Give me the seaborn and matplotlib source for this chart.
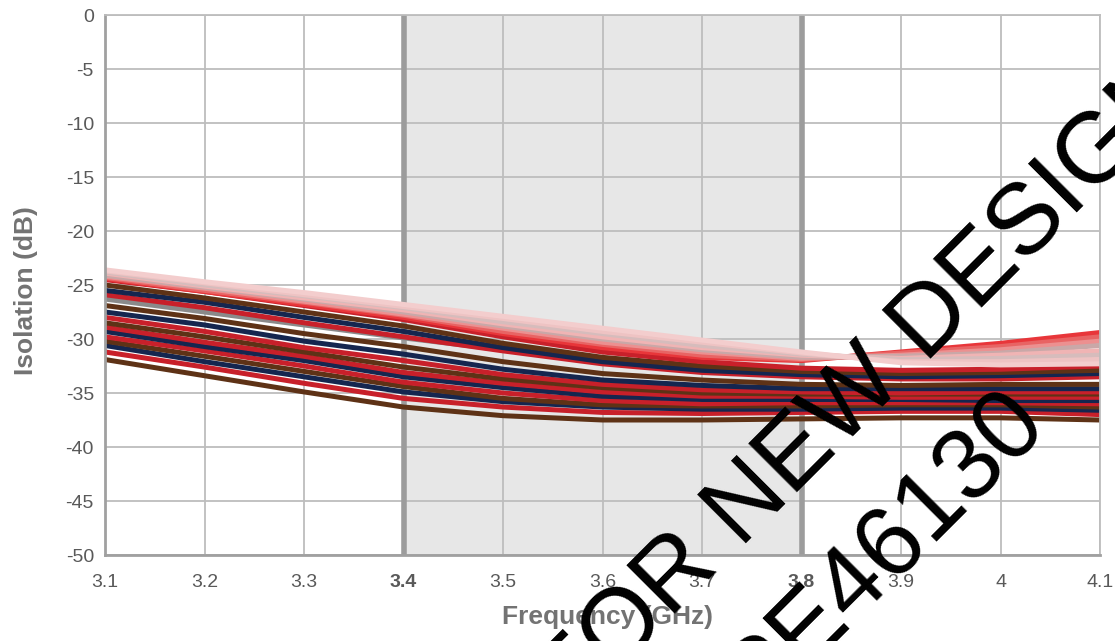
import pandas as pd
import seaborn as sns
import matplotlib.pyplot as plt

# Frequency points (GHz)
freq = [3.1, 3.2, 3.3, 3.4, 3.5, 3.6, 3.7, 3.8, 3.9, 4.0, 4.1]

# Lower family of isolation curves (dB)
lower_red = [
    [-24.5, -25.6, -26.9, -28.2, -29.8, -31.2, -32.1, -32.7, -32.9, -32.8, -32.5],
    [-25.9, -27.1, -28.5, -29.8, -31.1, -32.3, -33.1, -33.5, -33.7, -33.7, -33.5],
    [-28.0, -29.3, -30.8, -32.0, -33.3, -34.2, -34.7, -34.9, -35.0, -34.9, -34.9],
    [-28.9, -30.3, -31.6, -33.1, -34.1, -34.9, -35.3, -35.3, -35.4, -35.4, -35.4],
    [-29.8, -31.1, -32.5, -34.0, -35.0, -35.7, -36.0, -35.9, -35.9, -35.9, -36.0],
    [-31.2, -32.6, -34.1, -35.5, -36.3, -36.8, -36.9, -36.8, -36.7, -36.7, -37.0],
]
lower_navy = [
    [-25.5, -26.6, -28.0, -29.3, -30.8, -32.1, -32.9, -33.3, -33.5, -33.4, -33.2],
    [-27.5, -28.7, -30.2, -31.4, -32.8, -33.8, -34.3, -34.6, -34.6, -34.6, -34.6],
    [-29.3, -30.7, -32.0, -33.5, -34.5, -35.3, -35.6, -35.6, -35.6, -35.7, -35.7],
    [-30.6, -32.1, -33.5, -34.9, -35.8, -36.3, -36.5, -36.5, -36.4, -36.4, -36.6],
]
lower_brown = [
    [-25.0, -26.2, -27.5, -28.8, -30.4, -31.7, -32.5, -33.0, -33.2, -33.1, -32.9],
    [-26.9, -28.1, -29.5, -30.7, -32.1, -33.2, -33.8, -34.2, -34.3, -34.2, -34.2],
    [-28.5, -29.8, -31.2, -32.6, -33.7, -34.5, -35.0, -35.1, -35.1, -35.1, -35.1],
    [-30.2, -31.6, -33.0, -34.4, -35.5, -36.1, -36.2, -36.2, -36.1, -36.1, -36.3],
    [-31.9, -33.4, -34.9, -36.3, -37.1, -37.5, -37.5, -37.4, -37.3, -37.3, -37.5],
]
lower_gray = [-26.3, -27.5, -28.7, -29.9, -31.0, -32.0, -32.7, -33.1, -33.3, -33.2, -33.0]

# Upper family, from pink to red
upper_fan = [
    [-23.6, -24.7, -25.7, -26.8, -27.9, -29.0, -30.1, -31.2, -32.2, -32.4, -32.3],
    [-23.7, -24.8, -25.9, -27.0, -28.1, -29.3, -30.3, -31.3, -32.1, -32.1, -31.9],
    [-23.8, -25.0, -26.0, -27.1, -28.4, -29.5, -30.6, -31.4, -31.9, -31.8, -31.5],
    [-23.9, -25.1, -26.2, -27.3, -28.6, -29.8, -30.8, -31.5, -31.8, -31.5, -31.1],
    [-24.1, -25.2, -26.3, -27.5, -28.8, -30.0, -31.0, -31.7, -31.6, -31.3, -30.6],
    [-24.2, -25.3, -26.5, -27.7, -29.0, -30.3, -31.2, -31.8, -31.5, -31.0, -30.2],
    [-24.3, -25.5, -26.6, -27.8, -29.3, -30.5, -31.5, -31.9, -31.3, -30.7, -29.8],
    [-24.4, -25.6, -26.8, -28.0, -29.5, -30.8, -31.7, -32.0, -31.2, -30.4, -29.4],
]
fan_colors = ['#f3cdcd', '#eec3c3', '#d6bcbc', '#f0b4b4', '#c9a8a8', '#ec9090', '#e86464', '#e8363a']

x_ticks = [3.1, 3.2, 3.3, 3.4, 3.5, 3.6, 3.7, 3.8, 3.9, 4.0, 4.1]
x_labels = ['3.1', '3.2', '3.3', '3.4', '3.5', '3.6', '3.7', '3.8', '3.9', '4', '4.1']
y_ticks = [0, -5, -10, -15, -20, -25, -30, -35, -40, -45, -50]
band = (3.4, 3.8)

RED, NAVY, BROWN, GRAY = '#c8202a', '#15264f', '#5e3216', '#8a8a8a'

# stacking order of the lower family, top to bottom at 3.1 GHz
lower_order = [
    ('r', 0), ('b', 0), ('n', 0), ('r', 1), ('g', 0), ('b', 1), ('n', 1), ('r', 2),
    ('b', 2), ('r', 3), ('n', 2), ('r', 4), ('b', 3), ('n', 3), ('r', 5), ('b', 4),
]
groups = {'r': (lower_red, RED), 'n': (lower_navy, NAVY), 'b': (lower_brown, BROWN),
          'g': ([lower_gray], GRAY)}

rows = []
palette = {}
hue_order = []
for key, i in reversed(lower_order):
    curves, color = groups[key]
    name = f'{key}{i}'
    palette[name] = color
    hue_order.append(name)
    for f, v in zip(freq, curves[i]):
        rows.append({'freq': f, 'isolation': v, 'curve': name})
# fan drawn red first, pink last
for k in reversed(range(len(upper_fan))):
    name = f'fan{k}'
    palette[name] = fan_colors[k]
    hue_order.append(name)
    for f, v in zip(freq, upper_fan[k]):
        rows.append({'freq': f, 'isolation': v, 'curve': name})
df = pd.DataFrame(rows)

sns.set_theme(style='white')
plt.rcParams['font.family'] = ['Liberation Sans', 'DejaVu Sans']
plt.rcParams['axes.unicode_minus'] = False

fig = plt.figure(figsize=(11.15, 6.41), dpi=100)
ax = fig.add_axes([105 / 1115, 86 / 641, 995 / 1115, 540 / 641])

ax.axvspan(*band, color='#e7e7e7', zorder=0.2, lw=0)
ax.grid(True, color='#bdbdbd', lw=1.3, zorder=0.5)
ax.set_axisbelow(True)
for xb in band:
    ax.axvline(xb, color='#9c9c9c', lw=4, zorder=0.8)

sns.lineplot(data=df, x='freq', y='isolation', hue='curve', hue_order=hue_order,
             palette=palette, legend=False, linewidth=3.6, estimator=None,
             sort=False, ax=ax, solid_capstyle='butt')

ax.set_xlim(3.1, 4.1)
ax.set_ylim(-50, 0)
ax.set_xticks(x_ticks)
ax.set_xticklabels(x_labels)
ax.set_yticks(y_ticks)
ax.tick_params(axis='both', length=0, labelsize=14, labelcolor='#595959')
ax.tick_params(axis='x', pad=14)
ax.tick_params(axis='y', pad=8)
for lab in ax.get_xticklabels():
    if lab.get_text() in ('3.4', '3.8'):
        lab.set_fontweight('bold')

for side in ['top', 'right']:
    ax.spines[side].set_color('#bdbdbd')
    ax.spines[side].set_linewidth(1.3)
for side in ['left', 'bottom']:
    ax.spines[side].set_color('#a0a0a0')
    ax.spines[side].set_linewidth(2)

ax.set_xlabel('Frequency (GHz)', fontsize=19, fontweight='bold', color='#737373')
ax.set_ylabel('Isolation (dB)', fontsize=19, fontweight='bold', color='#737373')
ax.xaxis.set_label_coords(0.505, -0.092)
ax.yaxis.set_label_coords(-0.067, 0.49)

# watermark
fig.text(824 / 1115, 1 - 465 / 641, 'NOT FOR NEW DESIGNS', fontsize=72, color='black',
         rotation=45, rotation_mode='anchor', ha='center', va='baseline', zorder=10)
fig.text(902 / 1115, 1 - 568 / 641, 'PE46130', fontsize=72, color='black',
         rotation=45, rotation_mode='anchor', ha='center', va='baseline', zorder=10)

fig.savefig('out.png', dpi=100)
